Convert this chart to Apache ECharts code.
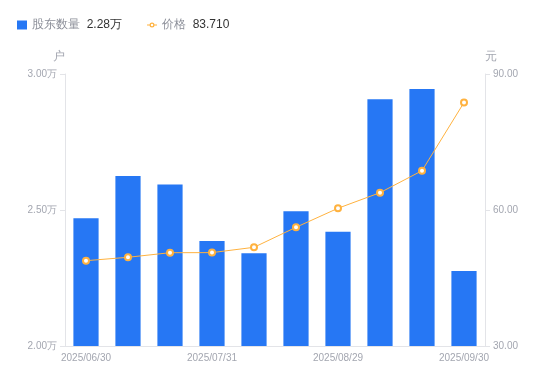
<!DOCTYPE html>
<html>
<head>
<meta charset="utf-8">
<script src="https://cdn.jsdelivr.net/npm/echarts@6/dist/echarts.min.js"></script>
<style>html,body{margin:0;padding:0;background:#fff}#c{width:550px;height:381px}</style>
</head>
<body>
<div id="c"></div>
<script>
var categories = ['2025/06/30','2025/07/10','2025/07/20','2025/07/31','2025/08/10','2025/08/20','2025/08/29','2025/09/10','2025/09/19','2025/09/30'];
var holders = [24700, 26250, 25940, 23860, 23410, 24950, 24200, 29070, 29450, 22760];
var prices = [48.82, 49.57, 50.58, 50.60, 51.77, 56.19, 60.38, 63.82, 68.67, 83.71];
var leftTicks = {min: 20000, max: 30000, interval: 5000};
var rightTicks = {min: 30, max: 90, interval: 30};

var chart = echarts.init(document.getElementById('c'));
var lastH = (holders[holders.length - 1] / 10000).toFixed(2) + '万';
var lastP = prices[prices.length - 1].toFixed(3);
var labelColor = '#a3a6b0';
var lineColor = '#e3e4e8';
var lineIcon = 'path://M0,3.5H3V4.5H0Z M9,3.5H12V4.5H9Z M9,4A3,3 0 1,1 3,4A3,3 0 1,1 9,4Z M7.5,4A1.5,1.5 0 1,0 4.5,4A1.5,1.5 0 1,0 7.5,4Z';
chart.setOption({
  animation: false,
  legend: {
    left: 12, top: 14,
    itemWidth: 10, itemHeight: 9, itemGap: 25,
    data: [{name: '股东数量', icon: 'rect'}, {name: '价格', icon: lineIcon}],
    formatter: function (name) {
      return '{n|' + name + '}  {v|' + (name === '股东数量' ? lastH : lastP) + '}';
    },
    textStyle: {
      fontSize: 12,
      rich: {
        n: {color: '#8c8f99', fontSize: 12},
        v: {color: '#333333', fontSize: 12}
      }
    }
  },
  grid: {left: 65, right: 65, top: 74, bottom: 35},
  xAxis: {
    type: 'category',
    data: categories,
    axisLine: {lineStyle: {color: lineColor}},
    axisTick: {show: false},
    axisLabel: {color: labelColor, fontSize: 10, interval: 2, margin: 7}
  },
  yAxis: [{
    type: 'value',
    name: '户',
    nameGap: 11,
    nameTextStyle: {color: labelColor, fontSize: 12, align: 'right'},
    min: leftTicks.min, max: leftTicks.max, interval: leftTicks.interval,
    axisLine: {show: true, lineStyle: {color: lineColor}},
    axisTick: {show: true, length: 5, lineStyle: {color: lineColor}},
    splitLine: {show: false},
    axisLabel: {color: labelColor, fontSize: 10, margin: 8,
      formatter: function (v) { return (v / 10000).toFixed(2) + '万'; }}
  }, {
    type: 'value',
    name: '元',
    nameGap: 11,
    nameTextStyle: {color: labelColor, fontSize: 12, align: 'left'},
    min: rightTicks.min, max: rightTicks.max, interval: rightTicks.interval,
    axisLine: {show: true, lineStyle: {color: lineColor}},
    axisTick: {show: true, length: 5, lineStyle: {color: lineColor}},
    splitLine: {show: false},
    axisLabel: {color: labelColor, fontSize: 10, margin: 8,
      formatter: function (v) { return v.toFixed(2); }}
  }],
  series: [{
    name: '股东数量',
    type: 'bar',
    data: holders,
    barWidth: '60%',
    itemStyle: {color: '#2677f4'}
  }, {
    name: '价格',
    type: 'line',
    yAxisIndex: 1,
    data: prices,
    symbol: 'emptyCircle',
    symbolSize: 6,
    lineStyle: {width: 1, color: '#ffb23f'},
    itemStyle: {color: '#ffb23f', borderWidth: 1.5}
  }]
});
</script>
</body>
</html>
